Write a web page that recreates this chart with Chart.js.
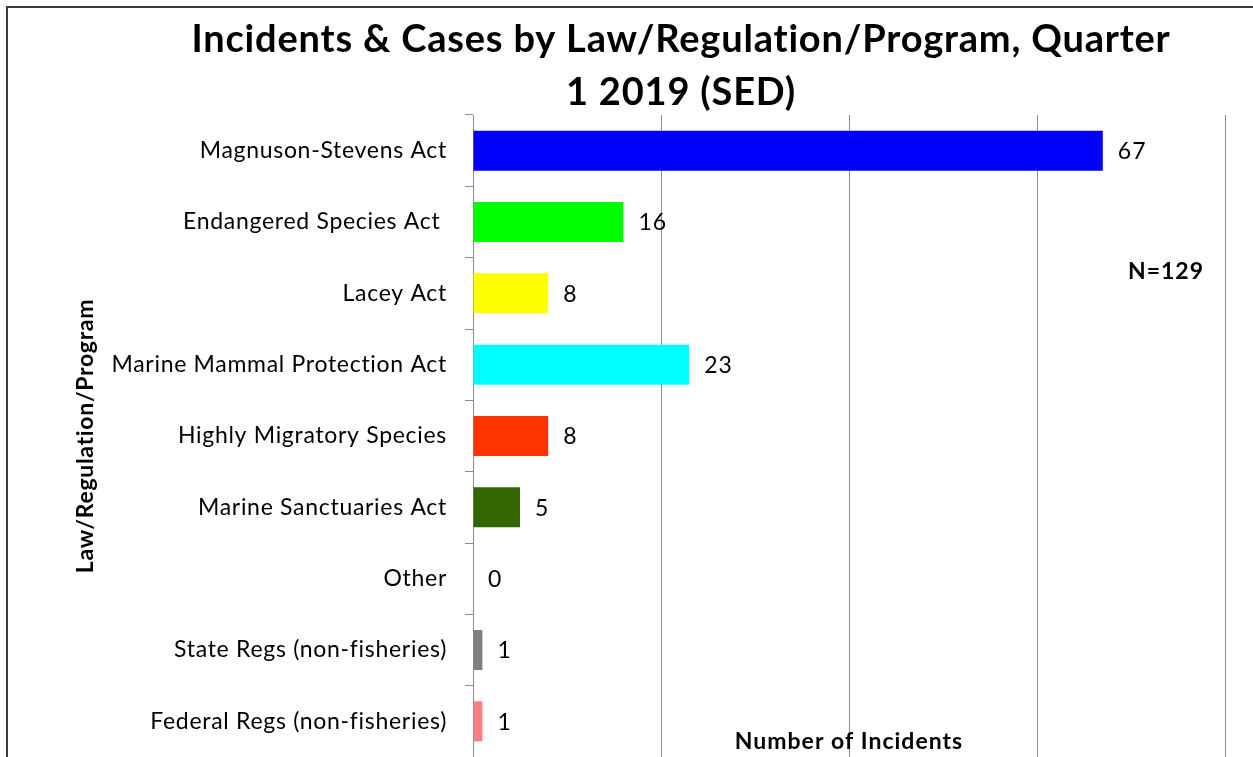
<!DOCTYPE html>
<html>
<head>
<meta charset="utf-8">
<script src="https://cdn.jsdelivr.net/npm/chart.js@4.4.1/dist/chart.umd.min.js"></script>
<style>
html,body{margin:0;padding:0;background:#fff;}
#wrap{width:1253px;height:757px;position:relative;}
</style>
</head>
<body>
<div id="wrap"><canvas id="c" width="1253" height="757"></canvas></div>
<script>
const categories = [
  'Magnuson-Stevens Act',
  'Endangered Species Act ',
  'Lacey Act',
  'Marine Mammal Protection Act',
  'Highly Migratory Species',
  'Marine Sanctuaries Act',
  'Other',
  'State Regs (non-fisheries)',
  'Federal Regs (non-fisheries)'
];
const incidents = [67, 16, 8, 23, 8, 5, 0, 1, 1];
const barColors = ['#0000FF','#00FF00','#FFFF00','#00FFFF','#FF3300','#336600','#A0A0A0','#808080','#FF7C80'];
const xTicks = [0, 20, 40, 60, 80];
const titleLines = ['Incidents & Cases by Law/Regulation/Program, Quarter', '1 2019 (SED)'];
const xTitle = 'Number of Incidents';
const yTitle = 'Law/Regulation/Program';
const noteText = 'N=129';

const FONT = 'Lato, "Open Sans", sans-serif';

const spacing = {
  id: 'spacing',
  beforeDraw(chart) { chart.ctx.letterSpacing = '0.7px'; }
};

const overlay = {
  id: 'overlay',
  afterDraw(chart) {
    const ctx = chart.ctx;
    ctx.save();
    // frame
    ctx.strokeStyle = '#3a3a3a';
    ctx.lineWidth = 2;
    ctx.beginPath();
    ctx.moveTo(7, 757);
    ctx.lineTo(7, 7);
    ctx.lineTo(1253, 7);
    ctx.stroke();
    // title
    ctx.fillStyle = '#000';
    ctx.textAlign = 'center';
    ctx.textBaseline = 'middle';
    ctx.letterSpacing = '0.8px';
    ctx.font = 'bold 38px ' + FONT;
    ctx.fillText(titleLines[0], 681, 40);
    ctx.fillText(titleLines[1], 681, 93);
    // value labels
    ctx.letterSpacing = '1px';
    ctx.font = '23px ' + FONT;
    ctx.textAlign = 'left';
    const meta = chart.getDatasetMeta(0);
    meta.data.forEach((bar, i) => {
      ctx.fillText(String(incidents[i]), bar.x + 15, bar.y + 1);
    });
    // x title
    ctx.letterSpacing = '1px';
    ctx.font = 'bold 23px ' + FONT;
    ctx.textAlign = 'center';
    ctx.fillText(xTitle, 849, 742);
    // note
    ctx.fillText(noteText, 1166, 272);
    ctx.restore();
  }
};

new Chart(document.getElementById('c'), {
  type: 'bar',
  data: {
    labels: categories,
    datasets: [{
      data: incidents,
      backgroundColor: barColors,
      borderWidth: 0,
      barPercentage: 0.56,
      categoryPercentage: 1.0
    }]
  },
  options: {
    indexAxis: 'y',
    responsive: false,
    animation: false,
    devicePixelRatio: 1,
    layout: { padding: { top: 115, right: 28, bottom: 0, left: 0 } },
    plugins: { legend: { display: false }, tooltip: { enabled: false }, title: { display: false } },
    scales: {
      x: {
        min: xTicks[0],
        max: xTicks[xTicks.length - 1],
        afterBuildTicks(scale) { scale.ticks = xTicks.map(v => ({ value: v })); },
        afterFit(scale) { scale.height = 0; scale.paddingLeft = 0; scale.paddingRight = 0; },
        ticks: { display: false },
        grid: { color: '#8c8c8c', lineWidth: 1, drawTicks: false },
        border: { display: false }
      },
      y: {
        afterFit(scale) { scale.width = 473; scale.paddingTop = 0; scale.paddingBottom = 0; },
        ticks: { color: '#000', font: { family: FONT, size: 23 }, padding: 18 },
        grid: { drawOnChartArea: false, color: '#8c8c8c', tickLength: 8, offset: true },
        border: { display: true, color: '#8c8c8c', width: 1 },
        title: { display: true, text: yTitle, color: '#000', font: { family: FONT, size: 23, weight: 'bold' }, padding: { top: 72, bottom: 0 } }
      }
    }
  },
  plugins: [spacing, overlay]
});
</script>
</body>
</html>
